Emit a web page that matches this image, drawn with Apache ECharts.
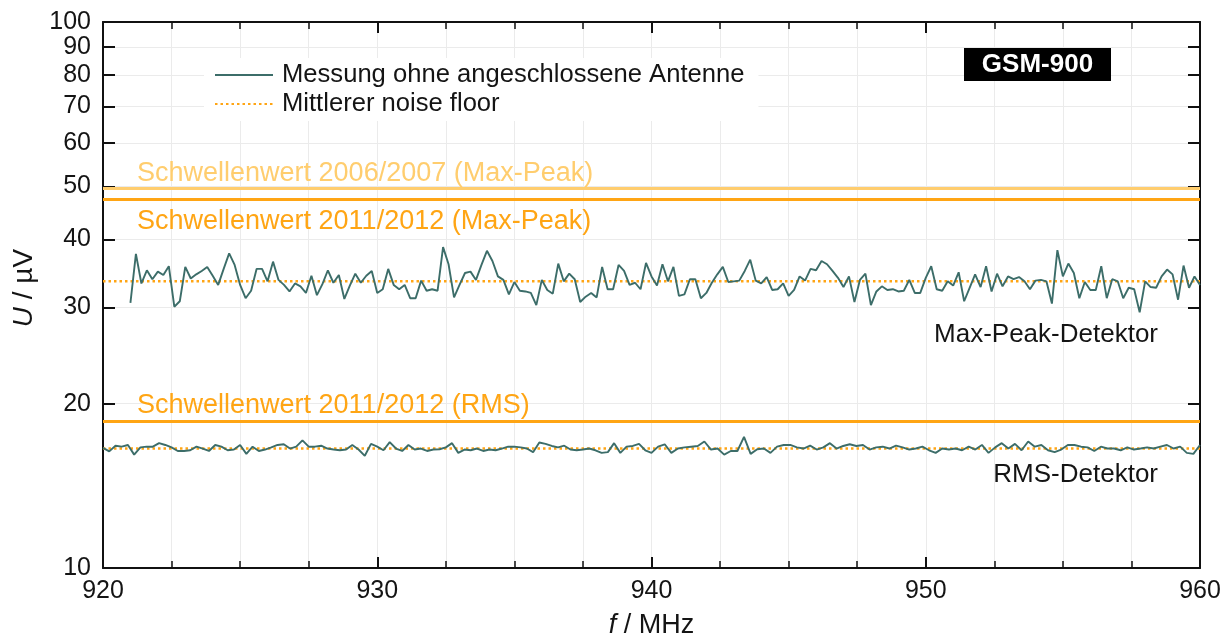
<!DOCTYPE html>
<html>
<head>
<meta charset="utf-8">
<script src="https://cdn.jsdelivr.net/npm/echarts@6/dist/echarts.min.js"></script>
<style>
  html, body { margin: 0; padding: 0; background: #ffffff; }
  #chart { width: 1227px; height: 644px; }
</style>
</head>
<body>
<div id="chart"></div>
<script>
// Frequency range of the GSM-900 downlink band (MHz)
const freqMin = 920;
const freqMax = 960;

// Voltage axis ticks (µV, logarithmic axis)
const yTicks = [10, 20, 30, 40, 50, 60, 70, 80, 90, 100];

// Max-Peak detector sweep, 0.2 MHz steps from 921 to 960 MHz (µV)
const peakStart = 921;
const peakEnd = 960;
const peakValues = [
  30.6, 37.6, 33.2, 35.1, 33.8, 34.9, 34.4, 35.7, 30.1, 30.8,
  35.6, 33.9, 34.5, 35.0, 35.6, 34.3, 33.0, 35.3, 37.7, 35.9,
  33.0, 31.2, 32.2, 35.3, 35.3, 33.5, 36.4, 33.7, 33.0, 32.1,
  33.2, 32.8, 31.9, 34.3, 31.6, 33.1, 35.1, 33.3, 34.4, 31.1,
  32.9, 34.6, 33.3, 34.3, 35.0, 31.9, 32.4, 35.3, 33.0, 32.4,
  33.0, 31.2, 31.2, 33.6, 32.2, 32.4, 32.2, 38.7, 36.0, 31.3,
  33.0, 34.7, 34.9, 33.7, 35.9, 38.1, 36.5, 34.2,
  33.7, 31.7, 33.4, 32.2, 32.1, 31.9, 30.3, 33.7, 32.3, 31.8,
  36.1, 33.5, 34.6, 33.8, 30.7, 31.4, 31.9, 31.3, 35.6, 32.4,
  32.4, 35.9, 35.0, 33.0, 33.3, 32.4, 36.2, 34.2, 32.9, 36.0,
  33.5, 35.6, 31.5, 31.7, 33.8, 33.8, 31.2, 31.9, 33.3, 34.5,
  35.6, 33.4, 33.5, 33.6, 35.0, 36.7, 33.6, 33.2, 34.1, 32.3,
  32.4, 33.2, 31.5, 32.3, 34.2, 33.6, 35.3, 35.1, 36.5, 36.0,
  35.0, 34.0, 32.7, 34.2, 30.7, 33.7, 34.6, 30.3, 32.1, 32.8,
  32.3, 32.4, 32.1,
  32.2, 33.7, 31.9, 31.9, 34.0, 35.7, 32.4, 32.2, 33.5, 32.9,
  34.8, 30.8, 32.6, 34.5, 32.7, 35.7, 32.1, 34.6, 32.8, 34.2,
  33.8, 34.1, 33.5, 32.4, 33.6, 33.7, 33.5, 30.5, 38.2, 34.2,
  36.1, 34.7, 31.2, 33.4, 32.3, 32.3, 35.7, 31.2, 33.8, 33.5,
  31.2, 32.6, 32.4, 29.4, 33.5, 32.7, 32.6, 34.2, 35.2, 34.5,
  31.0, 35.8, 32.6, 34.2, 33.0
];

// RMS detector sweep, first half 920–940 MHz (µV)
const rmsLowStart = 920;
const rmsLowEnd = 940;
const rmsLowValues = [
  16.60, 16.35, 16.75, 16.68, 16.80, 16.13, 16.63, 16.68, 16.68, 16.93,
  16.80, 16.63, 16.38, 16.38, 16.43, 16.68, 16.55, 16.38, 16.80, 16.68,
  16.43, 16.48, 16.80, 16.18, 16.68, 16.38, 16.48, 16.63, 16.80, 16.85,
  16.55, 16.68, 17.13, 16.68, 16.68, 16.75, 16.55, 16.48, 16.43, 16.48,
  16.80, 16.48, 16.05, 16.88, 16.68, 16.43, 17.00, 16.55, 16.38, 16.80,
  16.48, 16.55, 16.38, 16.48, 16.50, 16.63, 16.93, 16.25, 16.48, 16.43,
  16.55, 16.38, 16.48, 16.43, 16.55, 16.68, 16.68, 16.63, 16.55, 16.30,
  16.98, 16.88, 16.73, 16.63, 16.75, 16.48, 16.43, 16.48, 16.55, 16.43,
  16.25, 16.30, 16.93, 16.25, 16.68, 16.73, 16.88, 16.43, 16.25
];

// RMS detector sweep, second half 940–960 MHz (µV)
const rmsHighStart = 940;
const rmsHighEnd = 960;
const rmsHighValues = [
  16.55, 16.68, 16.85, 16.25, 16.55, 16.63, 16.68, 16.73, 17.05, 16.48,
  16.55, 16.13, 16.38, 16.38, 17.38, 16.18, 16.50, 16.55, 16.25, 16.68,
  16.80, 16.80, 16.63, 16.55, 16.75, 16.48, 16.63, 16.93, 16.55, 16.73,
  16.85, 16.73, 16.80, 16.48, 16.63, 16.68, 16.55, 16.75, 16.63, 16.48,
  16.55, 16.68, 16.43, 16.25, 16.55, 16.48, 16.55, 16.43, 16.68, 16.48,
  16.80, 16.25, 16.63, 16.93, 16.55, 16.88, 16.43, 17.05, 16.68, 16.80,
  16.43, 16.30, 16.48, 16.80, 16.80, 16.68, 16.63, 16.38, 16.68, 16.55,
  16.55, 16.43, 16.63, 16.48, 16.55, 16.63, 16.55, 16.68, 16.80, 16.55,
  16.68, 16.25, 16.18, 16.80
];

// Mean noise floor of each detector (µV)
const noiseFloorPeak = 33.5;
const noiseFloorRms = 16.55;

// Limit values (µV)
const thresholdNames = [
  'Schwellenwert 2006/2007 (Max-Peak)',
  'Schwellenwert 2011/2012 (Max-Peak)',
  'Schwellenwert 2011/2012 (RMS)'
];
const thresholdValues = [49.5, 47.3, 18.6];

const seriesNames = ['Messung ohne angeschlossene Antenne', 'Mittlerer noise floor'];

// Spread a sweep evenly over its frequency span
function sweep(values, f0, f1) {
  const step = (f1 - f0) / (values.length - 1);
  return values.map((v, i) => [f0 + i * step, v]);
}

const rmsData = sweep(rmsLowValues, rmsLowStart, rmsLowEnd)
  .concat(sweep(rmsHighValues, rmsHighStart, rmsHighEnd).slice(1));

const FONT = '"Liberation Sans", Arial, sans-serif';
const TEXT = '#141414';
const TEAL = '#3c6d69';
const ORANGE = '#ffa514';
const LIGHT_ORANGE = '#ffcd6e';
const GRID_LINE = '#ebebeb';

const thresholdStyles = [
  { color: LIGHT_ORANGE, position: 'insideStartTop', distance: [34, 2] },
  { color: ORANGE, position: 'insideStartBottom', distance: [34, 9] },
  { color: ORANGE, position: 'insideStartTop', distance: [34, 2] }
];

const chart = echarts.init(document.getElementById('chart'), null, { renderer: 'canvas' });

const axisLine = { show: true, lineStyle: { color: '#111', width: 2 } };
const italicRich = (size) => ({
  fontFamily: FONT, fontSize: size, color: TEXT,
  rich: { i: { fontFamily: FONT, fontSize: size, fontStyle: 'italic', color: TEXT } }
});

chart.setOption({
  animation: false,
  backgroundColor: '#ffffff',
  textStyle: { fontFamily: FONT },
  grid: { left: 103, right: 27, top: 22, bottom: 75, containLabel: false },
  legend: {
    data: seriesNames,
    orient: 'vertical',
    left: 204,
    top: 58,
    itemWidth: 58,
    itemHeight: 14,
    itemGap: 3,
    padding: [4, 14, 4, 10],
    backgroundColor: '#ffffff',
    itemStyle: { opacity: 0, borderWidth: 0 },
    textStyle: { fontFamily: FONT, fontSize: 25.6, color: TEXT, padding: [0, 0, 0, 4] }
  },
  xAxis: [
    {
      type: 'value',
      min: freqMin,
      max: freqMax,
      interval: 10,
      name: '{i|f} / MHz',
      nameLocation: 'middle',
      nameGap: 44,
      nameTextStyle: italicRich(27),
      axisLine: axisLine,
      axisTick: { show: true, inside: true, length: 11, lineStyle: { color: '#111', width: 2 } },
      minorTick: { show: true, splitNumber: 4, length: 7, lineStyle: { color: '#111', width: 1.5 } },
      axisLabel: { fontFamily: FONT, fontSize: 25, color: TEXT, margin: 11 },
      splitLine: { show: true, lineStyle: { color: GRID_LINE, width: 1 } },
      minorSplitLine: { show: true, lineStyle: { color: GRID_LINE, width: 1 } }
    },
    {
      type: 'value',
      position: 'top',
      min: freqMin,
      max: freqMax,
      interval: 10,
      axisLine: axisLine,
      axisTick: { show: true, inside: true, length: 11, lineStyle: { color: '#111', width: 2 } },
      minorTick: { show: true, splitNumber: 4, length: 7, lineStyle: { color: '#111', width: 1.5 } },
      axisLabel: { show: false },
      splitLine: { show: false }
    }
  ],
  yAxis: [
    {
      type: 'log',
      logBase: 10,
      min: 10,
      max: 100,
      name: '{i|U} / µV',
      nameLocation: 'middle',
      nameGap: 54,
      nameTextStyle: Object.assign(italicRich(28), { padding: [0, 0, 0, 14] }),
      axisLine: axisLine,
      axisTick: { show: true, inside: true, length: 12, customValues: yTicks, lineStyle: { color: '#111', width: 2 } },
      axisLabel: { fontFamily: FONT, fontSize: 25, color: TEXT, margin: 12, customValues: yTicks },
      splitLine: { show: true, lineStyle: { color: GRID_LINE, width: 1 } }
    },
    {
      type: 'log',
      logBase: 10,
      min: 10,
      max: 100,
      position: 'right',
      axisLine: axisLine,
      axisTick: { show: true, inside: true, length: 12, customValues: yTicks, lineStyle: { color: '#111', width: 2 } },
      axisLabel: { show: false, customValues: yTicks },
      splitLine: { show: false }
    }
  ],
  series: [
    {
      name: thresholdNames[0],
      type: 'line',
      data: [],
      silent: true,
      markLine: {
        silent: true,
        symbol: ['none', 'none'],
        data: thresholdValues.map((v, i) => ({
          yAxis: v,
          name: thresholdNames[i],
          lineStyle: { color: thresholdStyles[i].color, width: 3, type: 'solid' },
          label: {
            show: true,
            formatter: thresholdNames[i],
            position: thresholdStyles[i].position,
            distance: thresholdStyles[i].distance,
            color: thresholdStyles[i].color,
            fontFamily: FONT,
            fontSize: 27
          }
        }))
      }
    },
    {
      name: seriesNames[1],
      type: 'line',
      data: [[freqMin, noiseFloorPeak], [freqMax, noiseFloorPeak]],
      showSymbol: false,
      symbol: 'none',
      lineStyle: { color: ORANGE, width: 2.5, type: [2.5, 3] },
      itemStyle: { color: ORANGE },
      z: 3
    },
    {
      name: seriesNames[1],
      type: 'line',
      data: [[freqMin, noiseFloorRms], [freqMax, noiseFloorRms]],
      showSymbol: false,
      symbol: 'none',
      lineStyle: { color: ORANGE, width: 2.5, type: [2.5, 3] },
      itemStyle: { color: ORANGE },
      z: 3
    },
    {
      name: seriesNames[0],
      type: 'line',
      data: sweep(peakValues, peakStart, peakEnd),
      showSymbol: false,
      symbol: 'none',
      lineStyle: { color: TEAL, width: 1.9 },
      itemStyle: { color: TEAL },
      z: 4
    },
    {
      name: seriesNames[0],
      type: 'line',
      data: rmsData,
      showSymbol: false,
      symbol: 'none',
      lineStyle: { color: TEAL, width: 1.9 },
      itemStyle: { color: TEAL },
      z: 4
    }
  ],
  graphic: [
    {
      type: 'text',
      x: 1158,
      y: 335,
      z: 100,
      style: {
        text: 'Max-Peak-Detektor', fontFamily: FONT, fontSize: 26, fill: TEXT,
        align: 'right', verticalAlign: 'middle'
      }
    },
    {
      type: 'text',
      x: 1158,
      y: 475,
      z: 100,
      style: {
        text: 'RMS-Detektor', fontFamily: FONT, fontSize: 26, fill: TEXT,
        align: 'right', verticalAlign: 'middle'
      }
    },
    {
      type: 'group',
      x: 964,
      y: 48,
      z: 100,
      children: [
        { type: 'rect', z: 100, shape: { x: 0, y: 0, width: 147, height: 33 }, style: { fill: '#000' } },
        {
          type: 'text', z: 101, x: 73.5, y: 17,
          style: {
            text: 'GSM-900', fontFamily: FONT, fontSize: 26, fontWeight: 'bold',
            fill: '#fff', align: 'center', verticalAlign: 'middle'
          }
        }
      ]
    }
  ]
});
</script>
</body>
</html>
